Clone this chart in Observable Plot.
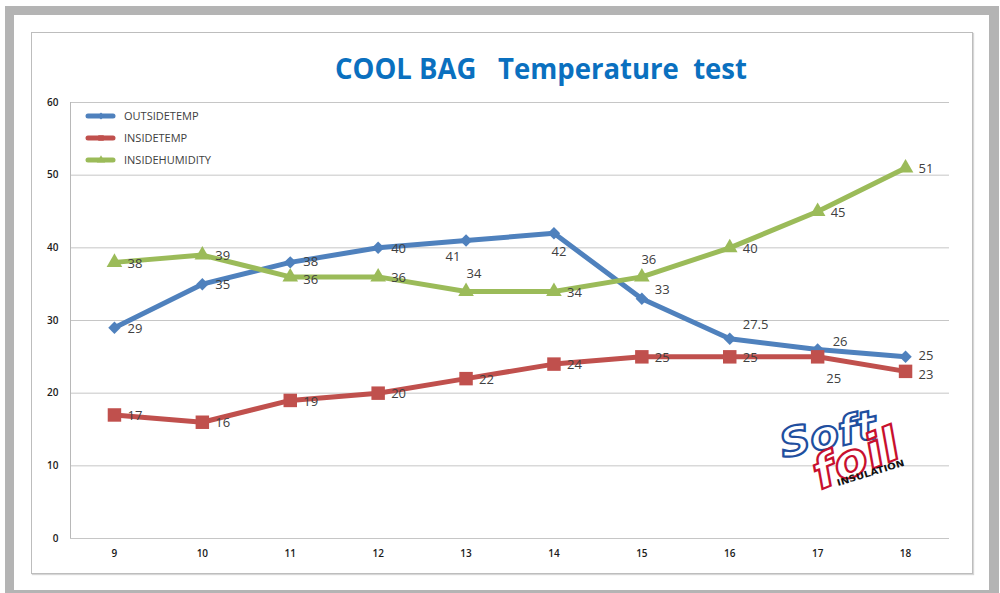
<!DOCTYPE html>
<html>
<head>
<meta charset="utf-8">
<script src="https://cdn.jsdelivr.net/npm/d3@7"></script>
<script src="https://cdn.jsdelivr.net/npm/@observablehq/plot@0.6"></script>
<style>
  html, body { margin: 0; padding: 0; background: #fff; }
  #wrap { position: relative; width: 1000px; height: 593px; overflow: hidden; }
  #outer { position: absolute; left: 5px; top: 6px; width: 975px; height: 575px;
           border: 9px solid #b4b4b4; border-bottom-width: 3px; border-right-width: 10px; box-sizing: content-box; }
  #inner { position: absolute; left: 31px; top: 32px; width: 940px; height: 540px;
           border: 1px solid #bdbdbd; box-shadow: 1px 1px 1px #d6d6d6; }
  #chart { position: absolute; left: 0; top: 0; }
</style>
</head>
<body>
<div id="wrap">
  <div id="outer"></div>
  <div id="inner"></div>
  <div id="chart"></div>
</div>
<script>
// ---- data ----
const hours = ["9", "10", "11", "12", "13", "14", "15", "16", "17", "18"];
const outsideTemp = [29, 35, 38, 40, 41, 42, 33, 27.5, 26, 25];
const insideTemp = [17, 16, 19, 20, 22, 24, 25, 25, 25, 23];
const insideHumidity = [38, 39, 36, 36, 34, 34, 36, 40, 45, 51];
const seriesNames = ["OUTSIDETEMP", "INSIDETEMP", "INSIDEHUMIDITY"];
const yTicks = [0, 10, 20, 30, 40, 50, 60];
const titleText = "COOL BAG   Temperature  test";

// label placement keywords per point (where each data label sits)
const outsidePlacement = ["right", "right", "rightUp", "right", "belowLeft", "below", "upRight", "aboveRight", "upRight2", "rightUp"];
const insidePlacement = ["right", "right", "right", "right", "right", "right", "right", "right", "belowRight", "rightDown"];
const humidityPlacement = ["right", "right", "rightDown", "right", "above", "right", "above2", "right", "right", "right"];

(function () {
// ---- styles ----
const colors = {OUTSIDETEMP: "#4f81bd", INSIDETEMP: "#c0504d", INSIDEHUMIDITY: "#9bbb59"};
const symbols = {OUTSIDETEMP: "diamond2", INSIDETEMP: "square", INSIDEHUMIDITY: "triangle"};
const radii = {OUTSIDETEMP: 5.6, INSIDETEMP: 7.6, INSIDEHUMIDITY: 5.8};
const offsets = {
  right: {dx: 13, dy: 1, textAnchor: "start"},
  rightUp: {dx: 13, dy: -1, textAnchor: "start"},
  rightDown: {dx: 13, dy: 3, textAnchor: "start"},
  belowLeft: {dx: -13, dy: 16, textAnchor: "middle"},
  below: {dx: 5, dy: 19, textAnchor: "middle"},
  upRight: {dx: 13, dy: -9, textAnchor: "start"},
  aboveRight: {dx: 13, dy: -14, textAnchor: "start"},
  upRight2: {dx: 15, dy: -8, textAnchor: "start"},
  belowRight: {dx: 16, dy: 22, textAnchor: "middle"},
  above: {dx: 8, dy: -18, textAnchor: "middle"},
  above2: {dx: 7, dy: -17, textAnchor: "middle"}
};

const seriesValues = [outsideTemp, insideTemp, insideHumidity];
const seriesPlacement = [outsidePlacement, insidePlacement, humidityPlacement];
const rows = [];
seriesNames.forEach((s, i) => {
  hours.forEach((h, j) => rows.push({series: s, hour: h, value: seriesValues[i][j], pos: seriesPlacement[i][j]}));
});

const labelFont = "'Open Sans', 'DejaVu Sans', sans-serif";
const marks = [
  Plot.ruleY(yTicks, {stroke: "#c6c6c6", strokeWidth: 1}),
  Plot.axisY({ticks: yTicks, tickSize: 0, tickPadding: 12, fontSize: 10, fontWeight: 600, label: null}),
  Plot.axisX({tickSize: 0, tickPadding: 11, fontSize: 10, fontWeight: 600, label: null})
];
seriesNames.forEach(s => {
  const d = rows.filter(r => r.series === s);
  marks.push(Plot.line(d, {x: "hour", y: "value", stroke: colors[s], strokeWidth: 5, strokeLinejoin: "round", strokeLinecap: "round"}));
});
seriesNames.forEach(s => {
  const d = rows.filter(r => r.series === s);
  marks.push(Plot.dot(d, {x: "hour", y: "value", symbol: symbols[s], r: radii[s], fill: colors[s], stroke: "none"}));
});
Object.entries(offsets).forEach(([k, o]) => {
  const d = rows.filter(r => r.pos === k);
  if (d.length) marks.push(Plot.text(d, {x: "hour", y: "value", text: r => String(r.value), fill: "#404040",
    fontSize: 13, dx: o.dx, dy: o.dy, textAnchor: o.textAnchor, fontFamily: labelFont}));
});

const chart = Plot.plot({
  width: 1000,
  height: 593,
  marginLeft: 70,
  marginRight: 51,
  marginTop: 102,
  marginBottom: 55,
  style: {background: "transparent", fontFamily: labelFont, color: "#1a1a1a", overflow: "visible"},
  x: {type: "point", domain: hours, padding: 0.5, round: false},
  y: {domain: [0, 60]},
  marks
});
document.getElementById("chart").appendChild(chart);

// ---- decorations (axis line, legend, title, logo) ----
const svg = d3.select(chart);
const xr = chart.scale("x").range;
const yr = chart.scale("y").range;
const x0 = Math.min(...xr), y0 = Math.min(...yr), y1 = Math.max(...yr);
svg.append("line").attr("x1", x0 + 0.5).attr("x2", x0 + 0.5).attr("y1", y0).attr("y2", y1)
  .attr("stroke", "#b8b8b8");

const lg = svg.append("g").attr("transform", `translate(${x0 + 16},${y0 + 14})`).attr("text-anchor", "start");
seriesNames.forEach((s, i) => {
  const g = lg.append("g").attr("transform", `translate(0,${i * 22})`);
  g.append("line").attr("x1", 2).attr("x2", 27).attr("y1", 0).attr("y2", 0)
    .attr("stroke", colors[s]).attr("stroke-width", 5).attr("stroke-linecap", "round");
  g.append("path").attr("d", d3.symbol(s === "OUTSIDETEMP" ? d3.symbolDiamond2 : s === "INSIDETEMP" ? d3.symbolSquare : d3.symbolTriangle, 30)())
    .attr("transform", "translate(15,0)").attr("fill", colors[s]);
  g.append("text").attr("x", 38).attr("y", 0).attr("dy", "0.35em").text(s)
    .attr("fill", "#404040").attr("font-size", 11).attr("font-family", labelFont);
});

svg.append("text").text(titleText)
  .attr("x", 335).attr("y", 79).attr("text-anchor", "start")
  .attr("textLength", 412).attr("lengthAdjust", "spacingAndGlyphs")
  .attr("fill", "#0a70bf").attr("font-size", 29).attr("font-weight", "bold")
  .attr("font-family", "'Open Sans', 'DejaVu Sans', sans-serif")
  .style("white-space", "pre");

const logo = svg.append("g").attr("font-family", "'DejaVu Sans', sans-serif").attr("font-weight", "bold")
  .attr("font-style", "italic").attr("text-anchor", "start");
logo.append("text").text("Soft").attr("transform", "translate(783,458) rotate(-12)")
  .attr("font-size", 40).attr("fill", "#fff").attr("stroke", "#1f4f9f").attr("stroke-width", 2.2)
  .attr("textLength", 98).attr("lengthAdjust", "spacingAndGlyphs");
logo.append("text").text("foil").attr("transform", "translate(820,490) rotate(-22)")
  .attr("font-size", 46).attr("fill", "#fff").attr("stroke", "#c8102e").attr("stroke-width", 2.2)
  .attr("textLength", 90).attr("lengthAdjust", "spacingAndGlyphs");
logo.append("text").text("INSULATION").attr("transform", "translate(838,486) rotate(-17)")
  .attr("font-size", 9).attr("fill", "#111").attr("font-style", "normal")
  .attr("textLength", 70).attr("lengthAdjust", "spacingAndGlyphs");
})();
</script>
</body>
</html>
